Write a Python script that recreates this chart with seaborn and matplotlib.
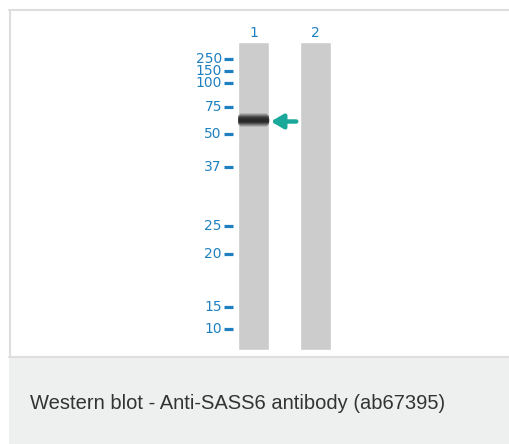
import matplotlib
matplotlib.use("Agg")
import matplotlib.pyplot as plt
from matplotlib.lines import Line2D
from matplotlib.patches import Rectangle
import seaborn as sns

# lanes and marker ladder (migration distance in px below the top of the wells)
lanes = ["1", "2"]
lane_length = [308, 308]
marker_labels = ["250", "150", "100", "75", "50", "37", "25", "20", "15", "10"]
marker_dist = [17, 29, 41, 65, 92, 125, 184, 212, 265, 287]
band_lane = 0
band_dist = 78
caption = "Western blot - Anti-SASS6 antibody (ab67395)"

blue = "#1f80c0"
teal = "#1aa89a"
lane_grey = "#cccccc"
frame_grey = "#dedede"

sns.set_theme(style="white")
plt.rcParams['font.family'] = ['DejaVu Sans']

W, H = 510, 444
fig = plt.figure(figsize=(W / 100, H / 100), dpi=100)
ax = fig.add_axes([0, 0, 1, 1])
ax.patch.set_alpha(0)

# lanes as bars (inverted y: bars hang down from the wells)
sns.barplot(x=lanes, y=lane_length, width=0.5, color=lane_grey,
            saturation=1, ax=ax)

# layout: lane 1 centre at 253.5 px, lane spacing 62 px, wells at 42 px from top
px = 62.0
ax.set_xlim(-253.5 / px, (W - 253.5) / px)
ax.set_ylim(H - 42, -42)
ax.set_axis_off()

# band in lane 1, stacked strokes to fake the blur, outer ones a bit shorter
for lw, a, half in [(10.0, 0.15, 0.22), (8.5, 0.22, 0.235), (7.0, 0.32, 0.245),
                    (5.5, 0.42, 0.25), (4.0, 0.5, 0.25), (2.5, 0.5, 0.25)]:
    ax.plot([band_lane - half, band_lane + half], [band_dist, band_dist],
            color="#1e1e1e", lw=lw, alpha=a, solid_capstyle="butt")

# arrow pointing at the band
ax.annotate("", xy=(band_lane + 0.28, band_dist + 1.5),
            xytext=(band_lane + 0.69, band_dist + 1.5),
            arrowprops=dict(arrowstyle="-|>,head_length=0.72,head_width=0.42",
                            lw=3.2, color=teal, mutation_scale=10,
                            shrinkA=0, shrinkB=0))

# ladder ticks and labels
ax.hlines(marker_dist, -0.476, -0.33, color=blue, lw=2.3)
for lab, d in zip(marker_labels, marker_dist):
    ax.text(-0.51, d, lab, ha="right", va="center", fontsize=10, color=blue)

# lane numbers
for i, lab in enumerate(lanes):
    ax.text(i, -9, lab, ha="center", va="center", fontsize=10, color=blue)

# frame of the picture (no right side) and the caption strip
fig.add_artist(Rectangle((9 / W, 0), (W - 9) / W, 86 / H,
                         transform=fig.transFigure, facecolor="#eeefef",
                         edgecolor="none", zorder=-1))
for xs, ys in [((9, W), (10.5, 10.5)), ((10, 10), (10, 357)),
               ((9, W), (357, 357))]:
    fig.add_artist(Line2D([x / W for x in xs], [1 - y / H for y in ys],
                          transform=fig.transFigure, color=frame_grey,
                          lw=1.5, zorder=-1))
fig.text(30 / W, 1 - 403 / H, caption, ha="left", va="center",
         fontsize=14.5, color="#333333", family=["Liberation Sans", "DejaVu Sans"])

fig.savefig("out.png", dpi=100)
